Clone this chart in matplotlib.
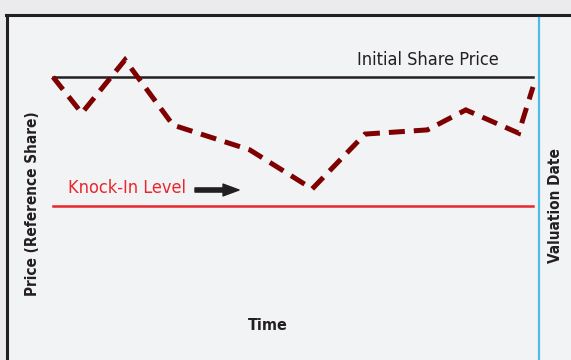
import matplotlib
matplotlib.use("Agg")
import matplotlib.pyplot as plt
from matplotlib.lines import Line2D
from matplotlib.patches import Rectangle

# ---- data ----
time = [0, 6, 15, 25, 41, 54, 65, 78, 86, 97, 100]
price = [100, 88.8, 105.3, 85.1, 77.4, 65.3, 82.3, 83.6, 89.8, 82.6, 96.9]
initial_price = 100
knock_in_level = 60
valuation_time = 101.25

W, H = 571, 360
fig = plt.figure(figsize=(W / 100, H / 100), dpi=100)
fig.patch.set_facecolor("#ebebed")

def fx(px):
    return px / W

def fy(py):
    return 1 - py / H

# inner panel with black left/top border
panel = Rectangle((fx(7), 0), 1 - fx(7), fy(15), transform=fig.transFigure,
                  facecolor="#f2f3f5", edgecolor="none", zorder=-5)
fig.patches.append(panel)
fig.add_artist(Line2D([fx(7), fx(7)], [0, fy(15)], transform=fig.transFigure,
                      color="#231f20", lw=2.2, zorder=-4))
fig.add_artist(Line2D([fx(6.2), 1], [fy(15), fy(15)], transform=fig.transFigure,
                      color="#231f20", lw=2.2, zorder=-4))

ax = fig.add_axes([0, 0, 1, 1])
ax.set_zorder(1)
ax.set_facecolor("none")
ax.set_xlim(-53 / 4.8, 518 / 4.8)
ax.set_ylim(100 - 283 / 3.225, 100 + 77 / 3.225)
ax.axis("off")

# valuation date line
ax.plot([valuation_time, valuation_time], [100 - 283 / 3.225, 100 + 59 / 3.225],
        color="#4dbde9", lw=1.6, zorder=2)

# horizontal reference lines
ax.plot([time[0], time[-1]], [initial_price, initial_price], color="#231f20", lw=1.8, zorder=2)
ax.plot([time[0], time[-1]], [knock_in_level, knock_in_level], color="#e8262d", lw=1.8, zorder=2)

# price path
ax.plot(time, price, color="#7f0000", lw=3.6, dashes=(3.2, 1.8),
        solid_joinstyle="miter", dash_joinstyle="miter", dash_capstyle="butt", zorder=3)

cond = ["Liberation Sans Narrow", "DejaVu Sans"]

fig.text(fx(428), fy(60), "Initial Share Price", fontsize=13, color="#231f20",
         ha="center", va="center", family=cond, stretch="condensed", zorder=5)
fig.text(fx(127), fy(188), "Knock-In Level", fontsize=13, color="#e8262d",
         ha="center", va="center", family=cond, stretch="condensed", zorder=5)
ax.annotate("", xy=(fx(239), fy(190)), xytext=(fx(195), fy(190)),
            xycoords="figure fraction", textcoords="figure fraction",
            arrowprops=dict(width=3.0, headwidth=8.5, headlength=11.5,
                            color="#231f20", shrink=0))

fig.text(fx(268), fy(325), "Time", fontsize=11.5, fontweight="bold", color="#231f20",
         ha="center", va="center", family=cond, stretch="condensed", zorder=5)
fig.text(fx(33), fy(204), "Price (Reference Share)", fontsize=11, fontweight="bold",
         color="#231f20", rotation=90, ha="center", va="center", family=cond,
         stretch="condensed", zorder=5)
fig.text(fx(556), fy(206), "Valuation Date", fontsize=11, fontweight="bold",
         color="#231f20", rotation=90, ha="center", va="center", family=cond,
         stretch="condensed", zorder=5)

fig.savefig("out.png", dpi=100, facecolor=fig.get_facecolor())
